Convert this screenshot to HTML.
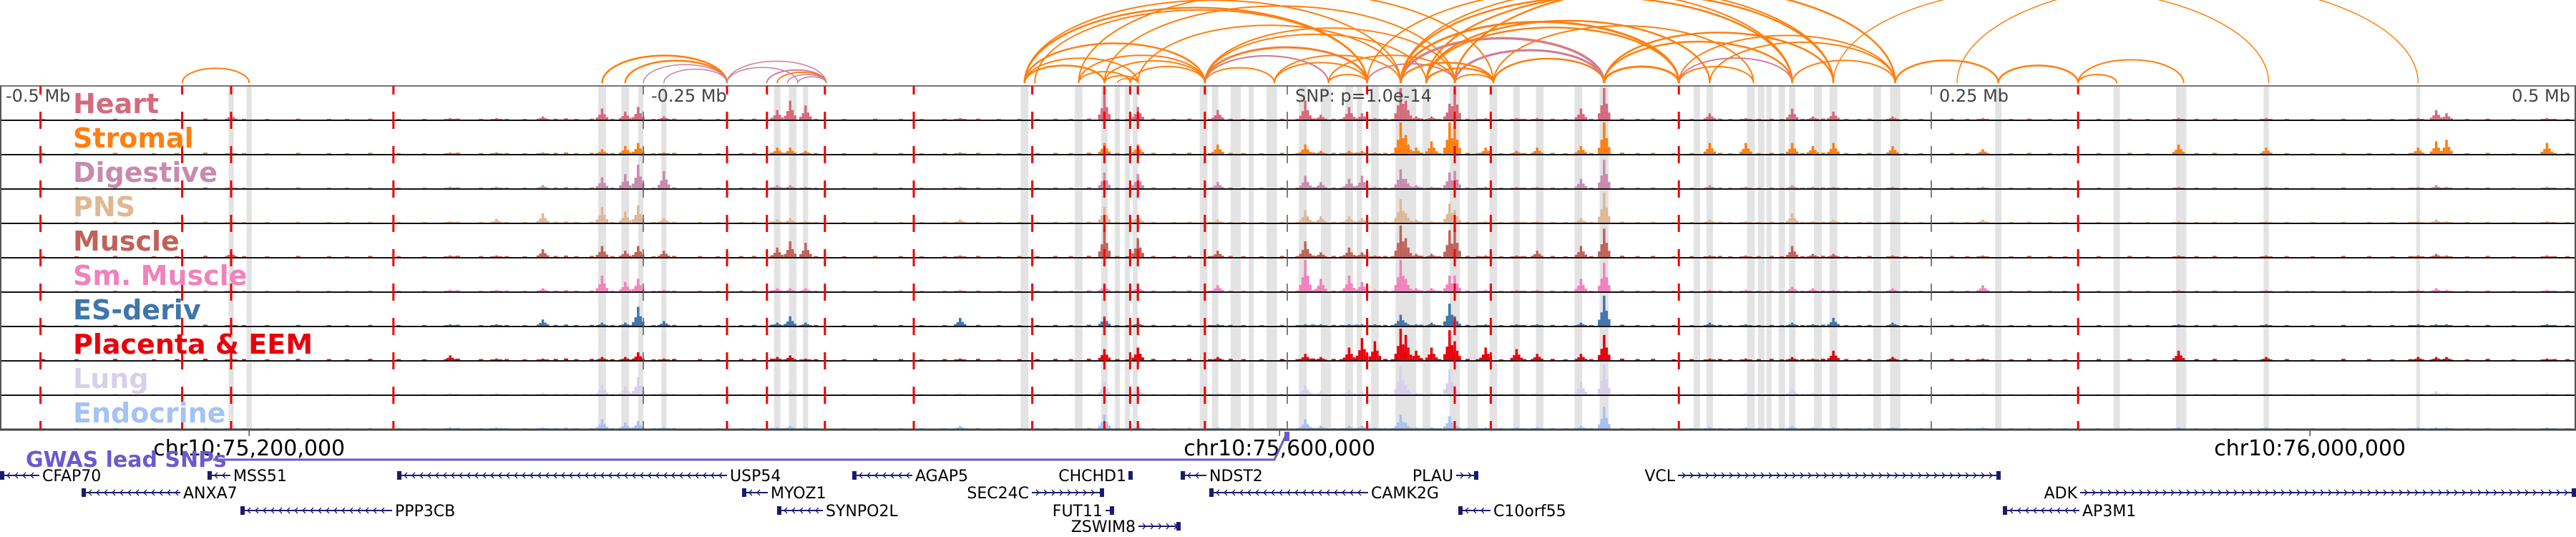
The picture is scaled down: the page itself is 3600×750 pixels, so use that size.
<!DOCTYPE html>
<html><head><meta charset="utf-8"><style>
html,body{margin:0;padding:0;background:#fff;}
svg{display:block;font-family:"DejaVu Sans","Liberation Sans",sans-serif;}
</style></head><body>
<svg id="chart" width="3600" height="750" viewBox="0 0 3600 750" xmlns="http://www.w3.org/2000/svg">
<g id="bands"></g>
<g id="signals"></g>
<g id="borders"></g>
<g id="vlines"></g>
<g id="arcs"></g>
<g id="labels"></g>
<g id="axis"></g>
<g id="genes"></g>
</svg>
<script>
// ---- data (positions in kb relative to lead SNP) ----
const trackNames = ["Heart","Stromal","Digestive","PNS","Muscle","Sm. Muscle","ES-deriv","Placenta & EEM","Lung","Endocrine"];
const trackColors = ["#d46a7e","#ff7f0e","#c78bad","#deb896","#c0625a","#f082bc","#3f76ab","#e8000b","#d8d0ea","#a4c2f4"];
const peakPos = [-410,-325,-307,-289,-266,-257,-252,-242,-198,-193,-187,-127,-71,-58,-27,7,13,24,29,34,44,46,50,56,63,65,77,89,97,114,123,164,178,196,204,212,235,270,346,380,439,446,450,489];
const heartVals = [.15,.05,.05,.1,.35,.25,.4,.1,.3,.6,.45,.05,.8,.4,.3,.6,.15,.4,.2,.05,1,.6,.1,.1,.5,.95,.05,.05,.05,.35,1,.2,.05,.35,.1,.25,.1,.05,.05,.05,.05,.3,.2,.05];
const stromalVals = [.05,.05,.05,.05,.15,.25,.35,.05,.2,.2,.1,.05,.35,.3,.3,.3,.1,.1,.1,.05,1,.6,.2,.4,1,.9,.2,.1,.2,.25,1,.35,.35,.35,.25,.35,.25,.15,.3,.2,.2,.4,.45,.35];
const digestiveVals = [.05,.05,.05,.1,.35,.45,.75,.55,.1,.1,.05,.05,.5,.45,.2,.4,.2,.3,.4,.05,.6,.3,.1,.05,.5,.55,.05,.05,.05,.3,.9,.1,.05,.1,.05,.05,.05,.05,.05,.05,.05,.1,.05,.05];
const pnsVals = [.05,.05,.12,.3,.5,.35,.55,.15,.1,.15,.05,.1,.5,.25,.1,.4,.2,.2,.15,.05,.75,.3,.1,.05,.6,.4,.05,.05,.05,.15,.95,.1,.05,.3,.05,.1,.05,.1,.05,.05,.05,.1,.05,.05];
const muscleVals = [.15,.05,.05,.25,.35,.2,.35,.2,.3,.5,.45,.05,.9,.6,.2,.5,.15,.3,.15,.05,1,.6,.1,.1,.85,.9,.05,.05,.2,.35,.9,.05,.05,.35,.1,.1,.05,.05,.05,.05,.05,.1,.05,.05];
const smMuscleVals = [.05,.05,.05,.1,.5,.3,.4,.05,.1,.1,.1,.05,.2,.15,.2,1,.4,.5,.3,.05,1,.4,.1,.1,.5,.5,.05,.05,.05,.4,.9,.05,.05,.15,.1,.05,.1,.2,.05,.05,.05,.1,.05,.05];
const esVals = [.05,.05,.05,.2,.1,.1,.6,.15,.1,.3,.1,.25,.3,.1,.05,.05,.05,.05,.05,.05,.35,.1,.05,.1,.7,.3,.05,.05,.05,.1,.95,.1,.05,.1,.05,.25,.1,.05,.05,.05,.05,.05,.05,.05];
const placentaVals = [.05,.15,.05,.05,.1,.1,.25,.05,.1,.15,.05,.05,.35,.4,.1,.2,.1,.4,.7,.6,1,.8,.3,.4,.95,.6,.4,.35,.2,.2,.8,.05,.05,.1,.05,.3,.1,.05,.3,.1,.1,.1,.1,.05];
const lungVals = [.05,.05,.05,.05,.3,.25,.55,.1,.05,.1,.05,.05,.4,.2,.05,.3,.1,.15,.1,.05,.9,.3,.05,.05,.8,.3,.05,.05,.05,.4,.95,.05,.05,.2,.05,.05,.05,.05,.05,.05,.05,.1,.05,.05];
const endocrineVals = [.05,.05,.05,.05,.3,.2,.25,.05,.05,.1,.05,.1,.45,.1,.05,.3,.1,.1,.1,.05,.45,.2,.05,.05,.4,.2,.05,.05,.05,.1,.7,.05,.05,.1,.05,.05,.05,.05,.05,.05,.05,.05,.05,.05];
const bgPos = [-483,-470,-455,-440,-431,-420,-405,-396,-384,-372,-365,-356,-345,-335,-322,-313,-303,-296,-284,-280,-276,-270,-262,-246,-238,-228,-221,-212,-207,-200,-183,-172,-160,-150,-142,-133,-120,-112,-104,-97,-90,-84,-77,-66,-62,-52,-44,-38,-30,-22,-17,-10,-2,4,10,18,21,27,38,41,52,59,70,74,83,92,103,108,118,130,136,142,150,157,168,172,183,188,192,200,208,217,222,226,240,246,258,264,281,288,296,302,315,327,334,353,360,368,388,398,410,420,429,436,458,466,476,492,497];
const bgVals = [.05,.04,.06,.04,.05,.07,.05,.04,.06,.05,.04,.06,.05,.04,.07,.05,.05,.04,.06,.08,.05,.06,.05,.04,.06,.05,.04,.05,.06,.07,.05,.04,.06,.05,.04,.05,.06,.04,.05,.05,.06,.05,.07,.05,.04,.06,.05,.07,.05,.06,.05,.04,.06,.05,.08,.06,.05,.07,.06,.05,.07,.05,.06,.05,.04,.05,.06,.04,.05,.07,.05,.06,.04,.05,.06,.04,.05,.06,.04,.05,.07,.05,.04,.06,.05,.04,.06,.05,.04,.06,.05,.04,.05,.06,.04,.05,.06,.04,.05,.04,.06,.05,.04,.05,.04,.06,.04,.05,.05];
const bandPos = [-410,-403,-266,-257,-251,-242,-198,-192,-187,-102,-81,-71,-66,-62,-59,-32.5,-28,-20,-14,-6,6,15,24,28,34,44,48,54,65,72,80,89,98,113,123,159,164,180,184,187,192,196,206,212,229,236,276,322,346,348,380,439];
const bandWidth = [2,2,3,3,2,2,2.5,3,2,3,3,2.5,2,2,2,3,2.5,4,2,4,3,4,3,2,3,4,4,3,4,4,3,2.5,3,3,3.5,2.5,2.5,3,2.5,2,2.5,2.5,3,3,3,4,2.5,2.5,2,2,2,1.5];
const redLinePos = [-484,-429,-410,-347,-217.5,-202,-179.5,-145,-99,-71,-61,-58,-32,31,65,79,152,307];
const grayLinePos = [-250,0,250];
const arcStart = [-429,-266,-257,-266,-250,-242,-217.5,-202,-198,-194,-190,-217.5,-102,-102,-102,-102,-102,-98,-81,-71,-66,-81,-71,-61,-102,-32,-32,-32,-32,-32,-5,16,-71,-81,-58,-32,31,44,44,44,54,65,65,80,44,54,65,31,123,152,152,123,123,54,80,44,54,65,152,196,164,236,276,307,307,307,212,260,44,-5,16,-32];
const arcEnd = [-403,-217.5,-217.5,-217.5,-217.5,-217.5,-179,-179,-179,-179,-179,-190,-71,-32,31,31,44,31,-61,-58,-58,-32,-32,-32,-58,31,31,-5,16,16,31,31,65,80,44,54,65,123,123,152,152,123,123,123,196,212,236,196,152,181,196,196,212,164,181,80,80,80,236,236,236,276,307,322,348,348,381,439,212,44,65,65];
const arcPink = [0,0,0,0,1,1,1,1,0,1,1,1,0,0,0,0,0,0,0,0,0,0,0,0,0,1,0,0,0,1,0,0,0,0,0,0,1,0,1,0,0,0,1,0,0,0,0,0,0,0,1,0,0,0,0,0,0,0,0,0,0,0,0,0,0,0,0,0,0,0,0,0];
const arcWeight = [2,2.5,2.5,2,1.5,1.5,1.5,2,2,1.5,1.5,1.5,2.5,2.5,2.5,2,2,2,2,2,1.5,2,2,2,2,3,2.5,2,2,2,2,2,2,2,2,2,2,3.5,3,3,2.5,3,3,2.5,2.5,2.5,2.5,2,3,2,2,2.5,2.5,2.5,2,2.5,2.5,2,2,2,2,2.5,2.5,2,2,1.5,1.5,1.5,2,2,2,2];
const tickLabels = ["-0.5 Mb","-0.25 Mb","0.25 Mb","0.5 Mb"];
const tickKb = [-500,-250,250,500];
const chrLabels = ["chr10:75,200,000","chr10:75,600,000","chr10:76,000,000"];
const chrKb = [-403,-3,397];

// ---- scales ----
const PX_PER_KB = 3.6, CENTER = 1799;
const xs = kb => CENTER + kb * PX_PER_KB;
const TOP = 120, TH = 48;
const NS = "http://www.w3.org/2000/svg";
function mk(tag, attrs, parent){const e=document.createElementNS(NS,tag);for(const k in attrs)e.setAttribute(k,attrs[k]);parent.appendChild(e);return e;}
const trackData = [heartVals,stromalVals,digestiveVals,pnsVals,muscleVals,smMuscleVals,esVals,placentaVals,lungVals,endocrineVals];
const bgScale = [1,1.2,1,1,1.2,1,1,1.3,0.8,0.9];

// bands
const gB = document.getElementById('bands');
bandPos.forEach((p,i)=>{
  const w = bandWidth[i]*PX_PER_KB;
  const r = mk('rect',{x:xs(p)-w/2,y:TOP,width:w,height:TH*10,fill:'#e3e3e3'},gB);
  
  
});

// signals
const gS = document.getElementById('signals');
trackData.forEach((vals,t)=>{
  const g = mk('g',{fill:trackColors[t]},gS);
  
  
  const base = TOP + TH*(t+1) - 1, H = 44;
  bgPos.forEach((p,i)=>{
    const h = Math.max(1, bgVals[i]*bgScale[t]*H*0.5);
    const b = mk('rect',{x:xs(p)-3,y:base-h,width:6,height:h},g);
    
    
  });
  peakPos.forEach((p,i)=>{
    const v = vals[i]||0; const x = xs(p);
    [[0,1],[-3.5,0.45],[3.5,0.5],[-7,0.2],[7,0.22]].forEach(([dx,f])=>{
      const h = Math.max(1, v*H*f);
      const b = mk('rect',{x:x+dx-1.75,y:base-h,width:3.5,height:h},g);
      
      
    });
  });
});

// borders
const gBo = document.getElementById('borders');
mk('line',{x1:0,y1:TOP,x2:3600,y2:TOP,stroke:'#777','stroke-width':2},gBo);
for(let t=1;t<10;t++) mk('line',{x1:0,y1:TOP+TH*t,x2:3600,y2:TOP+TH*t,stroke:'#111','stroke-width':2},gBo);
mk('line',{x1:0,y1:TOP+TH*10,x2:3600,y2:TOP+TH*10,stroke:'#444','stroke-width':3},gBo);
mk('line',{x1:1,y1:TOP,x2:1,y2:TOP+TH*10,stroke:'#555','stroke-width':2},gBo);
mk('line',{x1:3599,y1:TOP,x2:3599,y2:TOP+TH*10,stroke:'#555','stroke-width':2},gBo);

// vertical marker lines
const gV = document.getElementById('vlines');
grayLinePos.forEach(p=>{
  const l = mk('line',{x1:xs(p),y1:TOP,x2:xs(p),y2:TOP+TH*10,stroke:'#555','stroke-width':1.5,'stroke-dasharray':'24 24','stroke-dashoffset':12},gV);
  
  
});
redLinePos.forEach(p=>{
  const l = mk('line',{x1:xs(p),y1:TOP,x2:xs(p),y2:TOP+TH*10,stroke:'#ee0000','stroke-width':3,'stroke-dasharray':'24 24','stroke-dashoffset':12},gV);
  
  
});

// arcs
const gA = document.getElementById('arcs');
const AY = 116;
arcStart.forEach((s,i)=>{
  const x1 = xs(s), x2 = xs(arcEnd[i]); const rx=(x2-x1)/2, ry=rx*0.44;
  const a = mk('path',{d:`M${x1} ${AY} A${rx} ${ry} 0 0 1 ${x2} ${AY}`,fill:'none',stroke:arcPink[i]?'#cc7f9e':'#ff7f0e','stroke-width':arcWeight[i]},gA);
  
  
});

// track labels
const gL = document.getElementById('labels');
trackNames.forEach((n,t)=>{
  const tx = mk('text',{x:102,y:TOP+TH*t+38,fill:trackColors[t],'font-size':38,'font-weight':'bold'},gL);
  tx.textContent = n;
  
  
});

// axis
const gX = document.getElementById('axis');
tickLabels.forEach((lab,i)=>{
  const x = xs(tickKb[i]);
  const anchor = i===0?'start':(i===3?'end':'start');
  const tx = mk('text',{x: i===0?8:(i===3?3592:x+11),y:142,fill:'#444','font-size':24,'text-anchor':anchor},gX);
  tx.textContent = lab;
  
  
});
const snp = mk('text',{x:1810,y:142,fill:'#444','font-size':24},gX);
snp.textContent = 'SNP: p=1.0e-14';


chrLabels.forEach((lab,i)=>{
  const x = xs(chrKb[i]);
  mk('line',{x1:x,y1:600,x2:x,y2:609,stroke:'#555','stroke-width':1.5},gX);
  const tx = mk('text',{x:x,y:636,fill:'#000','font-size':30,'text-anchor':'middle'},gX);
  tx.textContent = lab;
  
  
});
const gw = mk('text',{x:36,y:652,fill:'#6a5acd','font-size':30,'font-weight':'bold'},gX);
gw.textContent = 'GWAS lead SNPs';


mk('polyline',{points:'298,642 1781,642 1797,608',fill:'none',stroke:'#6a5acd','stroke-width':3},gX);
mk('rect',{x:1795,y:603,width:7,height:13,fill:'#6a5acd'},gX);

// genes
const gG = document.getElementById('genes');
const genes = [
 ["CFAP70",0,55,0,-1,"r"],["MSS51",290,322,0,-1,"r"],["USP54",555,1016,0,-1,"r"],["AGAP5",1191,1275,0,-1,"r"],
 ["CHCHD1",1578,1583,0,1,"l"],["NDST2",1650,1686,0,-1,"r"],["PLAU",2035,2066,0,1,"l"],["VCL",2345,2796,0,1,"l"],
 ["ANXA7",114,252,1,-1,"r"],["MYOZ1",1037,1073,1,-1,"r"],["SEC24C",1442,1543,1,1,"l"],["CAMK2G",1690,1912,1,-1,"r"],["ADK",2907,3600,1,1,"l"],
 ["PPP3CB",336,548,2,-1,"r"],["SYNPO2L",1086,1150,2,-1,"r"],["FUT11",1545,1557,2,1,"l"],["C10orf55",2038,2083,2,-1,"r"],["AP3M1",2799,2906,2,-1,"r"],
 ["ZSWIM8",1591,1650,3,1,"l"]
];
const rowY=[664,688,713,735];
genes.forEach(([n,s,e,r,str,side])=>{
  const y=rowY[r];
  const g=mk('g',{},gG);
  
  
  mk('line',{x1:s,y1:y,x2:e,y2:y,stroke:'#1a1a6e','stroke-width':2},g);
  let d='';
  for(let x=s+10;x<e-4;x+=11){ d+= str<0?`M${x+4} ${y-4}L${x} ${y}L${x+4} ${y+4}`:`M${x-4} ${y-4}L${x} ${y}L${x-4} ${y+4}`; }
  if(d) mk('path',{d:d,fill:'none',stroke:'#1a1a6e','stroke-width':1.3},g);
  const bx = str<0? s : e-6;
  mk('rect',{x:bx,y:y-6,width:Math.min(6,e-s+1),height:12,fill:'#1a1a6e'},g);
  const tx=mk('text',{x: side==='r'?e+4:s-4,y:y+8,'font-size':22,fill:'#000','text-anchor':side==='r'?'start':'end'},g);
  tx.textContent=n;
});
</script>
</body></html>
